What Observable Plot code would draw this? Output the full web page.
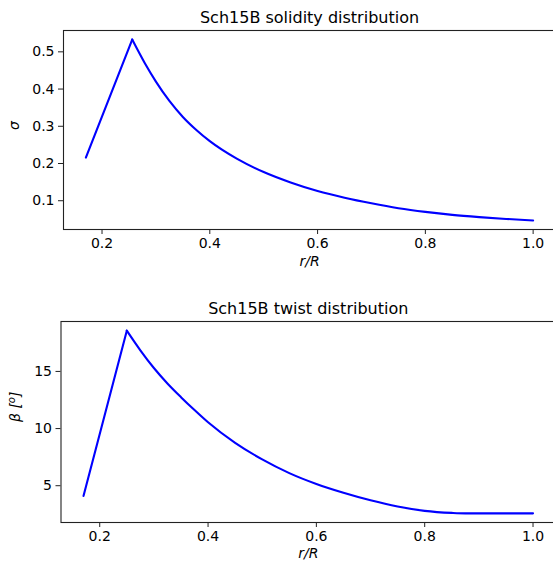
<!DOCTYPE html>
<html>
<head>
<meta charset="utf-8">
<script src="https://cdn.jsdelivr.net/npm/d3@7"></script>
<script src="https://cdn.jsdelivr.net/npm/@observablehq/plot@0.6"></script>
<style>
  html, body { margin: 0; padding: 0; background: #fff; overflow: hidden; }
  #fig { width: 553px; height: 569px; overflow: hidden; position: relative; }
  #fig svg { display: block; max-width: none !important; }
</style>
</head>
<body>
<div id="fig"></div>
<script>
// Sch15B blade: solidity and twist along the radius
const rSolidity = [0.17, 0.256, 0.28, 0.30, 0.325, 0.35, 0.375, 0.40, 0.45, 0.50, 0.55, 0.60, 0.65, 0.70, 0.75, 0.80, 0.85, 0.90, 0.95, 1.00];
const sigma     = [0.216, 0.533, 0.468, 0.42, 0.368, 0.325, 0.290, 0.260, 0.213, 0.177, 0.149, 0.126, 0.108, 0.093, 0.080, 0.070, 0.062, 0.056, 0.051, 0.047];

const rTwist = [0.17, 0.25, 0.275, 0.30, 0.325, 0.35, 0.375, 0.40, 0.45, 0.50, 0.55, 0.60, 0.65, 0.70, 0.75, 0.80, 0.85, 0.875, 0.90, 0.95, 1.00];
const beta   = [4.1, 18.57, 16.85, 15.3, 13.95, 12.75, 11.62, 10.55, 8.75, 7.3, 6.1, 5.15, 4.38, 3.72, 3.18, 2.8, 2.62, 2.58, 2.58, 2.58, 2.58];

const xTicks = [0.2, 0.4, 0.6, 0.8, 1.0];
const sigmaTicks = [0.1, 0.2, 0.3, 0.4, 0.5];
const betaTicks = [5, 10, 15];

const titleSolidity = "Sch15B solidity distribution";
const titleTwist = "Sch15B twist distribution";
const xLabel = "r/R";
const yLabelSolidity = "σ";
const yLabelTwist = "β [o]";

const FONT = "DejaVu Sans, sans-serif";

function panel({r, v, yDomain, yTicks, yFormat, title, yLabel, height, marginTop, marginBottom, marginLeft, xLabelDy, yLabelDx}) {
  const rows = r.map((x, i) => ({x, y: v[i]}));
  const peak = d3.maxIndex(v);
  const rise = rows.slice(0, peak + 1);
  const fall = rows.slice(peak);
  return Plot.plot({
    width: 570,
    height,
    marginLeft,
    marginRight: 570 - 555,
    marginTop,
    marginBottom,
    style: {fontFamily: FONT, fontSize: "14px", color: "#000", background: "#fff", maxWidth: "none"},
    x: {domain: [0.1285, 1.0415]},
    y: {domain: yDomain},
    marks: [
      Plot.frame({stroke: "#222", strokeWidth: 1.1}),
      Plot.axisX(xTicks, {anchor: "bottom", tickSize: 5, tickPadding: 4, tickFormat: d3.format(".1f"), label: null, stroke: "#222", fontSize: 14}),
      Plot.axisY(yTicks, {anchor: "left", tickSize: 5, tickPadding: 4, tickFormat: yFormat, label: null, stroke: "#222", fontSize: 14}),
      Plot.line(rise, {x: "x", y: "y", stroke: "#0000ff", strokeWidth: 2.1}),
      Plot.line(fall, {x: "x", y: "y", stroke: "#0000ff", strokeWidth: 2.1, curve: "monotone-x"}),
      Plot.text([title], {text: d => d, frameAnchor: "top", lineAnchor: "bottom", dy: -8, fontSize: 16}),
      Plot.text([xLabel], {text: d => d, frameAnchor: "bottom", lineAnchor: "middle", dy: xLabelDy, fontStyle: "italic", fontSize: 14}),
      Plot.text([yLabel], {text: d => d, frameAnchor: "left", lineAnchor: "middle", rotate: -90, dx: yLabelDx, fontStyle: "italic", fontSize: 14})
    ]
  });
}

const solidityChart = panel({
  r: rSolidity, v: sigma,
  yDomain: [0.0227, 0.5573], yTicks: sigmaTicks, yFormat: d3.format(".1f"),
  title: titleSolidity, yLabel: yLabelSolidity,
  height: 290, marginTop: 30, marginBottom: 61, marginLeft: 63,
  xLabelDy: 32, yLabelDx: -49
});

const twistChart = panel({
  r: rTwist, v: beta,
  yDomain: [1.78, 19.37], yTicks: betaTicks, yFormat: d3.format("d"),
  title: titleTwist, yLabel: yLabelTwist,
  height: 279, marginTop: 31, marginBottom: 47, marginLeft: 60.5,
  xLabelDy: 31, yLabelDx: -45.5
});

// β [°] label: italic β and a raised italic "o"
d3.select(twistChart).selectAll("text").filter(function () { return this.textContent === yLabelTwist; })
  .each(function () {
    const t = d3.select(this).attr("font-style", null);
    t.text(null);
    t.append("tspan").attr("font-style", "italic").text("β");
    t.append("tspan").text(" [");
    t.append("tspan").attr("font-style", "italic").attr("font-size", "0.72em").attr("dy", "-0.45em").text("o");
    t.append("tspan").attr("dy", "0.32em").text("]");
  });

const fig = document.getElementById("fig");
fig.append(solidityChart, twistChart);
</script>
</body>
</html>
